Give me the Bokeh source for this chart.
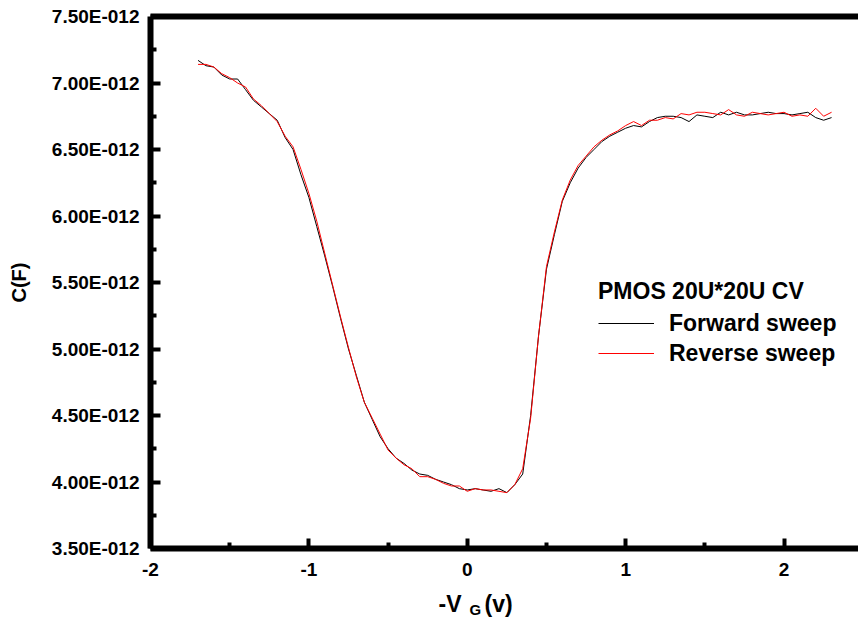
from bokeh.plotting import figure
from bokeh.layouts import column
from bokeh.models import (Range1d, LinearAxis, Legend, LegendItem, Label,
                          FixedTicker, ColumnDataSource)
from bokeh.embed import file_html
from bokeh.resources import INLINE

# Gate voltage sweep (-V_G, volts)
vg = [-1.70, -1.65, -1.60, -1.55, -1.50, -1.45, -1.40, -1.35, -1.30, -1.25,
      -1.20, -1.15, -1.10, -1.05, -1.00, -0.95, -0.90, -0.85, -0.80, -0.75,
      -0.70, -0.65, -0.60, -0.55, -0.50, -0.45, -0.40, -0.35, -0.30, -0.25,
      -0.20, -0.15, -0.10, -0.05, 0.00, 0.05, 0.10, 0.15, 0.20, 0.25,
      0.30, 0.35, 0.40, 0.45, 0.50, 0.55, 0.60, 0.65, 0.70, 0.75,
      0.80, 0.85, 0.90, 0.95, 1.00, 1.05, 1.10, 1.15, 1.20, 1.25,
      1.30, 1.35, 1.40, 1.45, 1.50, 1.55, 1.60, 1.65, 1.70, 1.75,
      1.80, 1.85, 1.90, 1.95, 2.00, 2.05, 2.10, 2.15, 2.20, 2.25, 2.30]

# Capacitance in units of 1E-12 F
c_forward = [7.17, 7.13, 7.12, 7.06, 7.03, 7.03, 6.95, 6.87, 6.82, 6.77,
             6.72, 6.59, 6.50, 6.31, 6.14, 5.92, 5.70, 5.47, 5.23, 5.00,
             4.80, 4.60, 4.47, 4.34, 4.25, 4.18, 4.14, 4.09, 4.06, 4.05,
             4.02, 4.00, 3.98, 3.95, 3.94, 3.95, 3.94, 3.93, 3.95, 3.92,
             3.98, 4.06, 4.50, 5.10, 5.60, 5.86, 6.11, 6.25, 6.36, 6.44,
             6.50, 6.56, 6.60, 6.63, 6.66, 6.68, 6.67, 6.71, 6.74, 6.75,
             6.75, 6.74, 6.71, 6.76, 6.75, 6.74, 6.78, 6.76, 6.78, 6.76,
             6.76, 6.77, 6.78, 6.77, 6.77, 6.76, 6.77, 6.78, 6.74, 6.72, 6.74]
c_reverse = [7.14, 7.14, 7.12, 7.07, 7.04, 7.00, 6.97, 6.88, 6.83, 6.77,
             6.71, 6.60, 6.52, 6.35, 6.17, 5.96, 5.72, 5.48, 5.24, 5.01,
             4.79, 4.60, 4.48, 4.36, 4.24, 4.18, 4.13, 4.10, 4.04, 4.04,
             4.02, 3.99, 3.97, 3.97, 3.93, 3.95, 3.94, 3.94, 3.93, 3.92,
             3.98, 4.10, 4.48, 5.10, 5.62, 5.88, 6.12, 6.27, 6.38, 6.45,
             6.52, 6.57, 6.61, 6.64, 6.68, 6.71, 6.68, 6.72, 6.72, 6.74,
             6.73, 6.77, 6.76, 6.78, 6.78, 6.77, 6.76, 6.80, 6.76, 6.75,
             6.78, 6.77, 6.76, 6.77, 6.78, 6.75, 6.76, 6.75, 6.81, 6.75, 6.78]

y_ticks = [3.5, 4.0, 4.5, 5.0, 5.5, 6.0, 6.5, 7.0, 7.5]
y_tick_labels = ["3.50E-012", "4.00E-012", "4.50E-012", "5.00E-012", "5.50E-012",
                 "6.00E-012", "6.50E-012", "7.00E-012", "7.50E-012"]
x_ticks = [-2, -1, 0, 1, 2]
x_tick_labels = ["-2", "-1", "0", "1", "2"]

legend_title = "PMOS 20U*20U CV"
series_names = ["Forward sweep", "Reverse sweep"]
y_title = "C(F)"
x_title_parts = ["-V", "G", "(v)"]

FONT = "Liberation Sans"

p = figure(width=858, height=592, output_backend="svg", toolbar_location=None,
           x_range=Range1d(-2, 2.47), y_range=Range1d(3.5, 7.5),
           min_border_left=150, min_border_right=0, min_border_top=16,
           min_border_bottom=44, x_axis_location=None, y_axis_location=None)
p.outline_line_color = None
p.grid.visible = False
p.background_fill_color = "white"
p.border_fill_color = "white"

src = ColumnDataSource(dict(x=vg, f=c_forward, r=c_reverse))
r1 = p.line("x", "f", source=src, line_color="black", line_width=1)
r2 = p.line("x", "r", source=src, line_color="#ff0000", line_width=1)

xa = LinearAxis(ticker=FixedTicker(ticks=x_ticks, minor_ticks=[-1.5, -0.5, 0.5, 1.5, 2.5]))
xa.major_label_overrides = {t: s for t, s in zip(x_ticks, x_tick_labels)}
ya = LinearAxis(ticker=FixedTicker(ticks=y_ticks,
                                   minor_ticks=[3.75, 4.25, 4.75, 5.25, 5.75, 6.25, 6.75, 7.25]))
ya.major_label_overrides = {t: s for t, s in zip(y_ticks, y_tick_labels)}
for ax in (xa, ya):
    ax.axis_line_width = 6
    ax.axis_line_color = "black"
    ax.major_tick_in = 10
    ax.major_tick_out = 0
    ax.minor_tick_in = 6
    ax.minor_tick_out = 0
    ax.major_tick_line_width = 4
    ax.minor_tick_line_width = 4
    ax.major_tick_line_color = "black"
    ax.minor_tick_line_color = "black"
    ax.major_label_text_font = FONT
    ax.major_label_text_font_style = "bold"
    ax.major_label_text_font_size = "19px"
    ax.major_label_text_color = "black"
xa.major_label_standoff = 14
ya.major_label_standoff = 11
ya.axis_label = y_title
ya.axis_label_text_font = FONT
ya.axis_label_text_font_style = "bold"
ya.axis_label_text_font_size = "20px"
ya.axis_label_text_color = "black"
ya.axis_label_standoff = 19
p.add_layout(xa, "below")
p.add_layout(ya, "left")

# top frame line (no ticks, no labels)
ta = LinearAxis(ticker=FixedTicker(ticks=[], minor_ticks=[]))
ta.axis_line_width = 6
ta.axis_line_color = "black"
ta.major_tick_in = 0
ta.major_tick_out = 0
ta.minor_tick_in = 0
ta.minor_tick_out = 0
ta.major_label_standoff = 0
p.add_layout(ta, "above")

legend = Legend(items=[LegendItem(label=series_names[0], renderers=[r1]),
                       LegendItem(label=series_names[1], renderers=[r2])],
                title=legend_title, location=(448, 181),
                border_line_color=None, background_fill_alpha=0,
                title_text_font=FONT, title_text_font_style="bold",
                title_text_font_size="23px", title_text_color="black",
                label_text_font=FONT, label_text_font_style="bold",
                label_text_font_size="23px", label_text_color="black",
                glyph_width=56, glyph_height=28, label_standoff=15,
                padding=0, margin=0, spacing=2, title_standoff=4)
p.add_layout(legend)

# strip below the plot carrying the x-axis title (with subscript);
# its frame is aligned with the main frame (pixels 150..858)
q = figure(width=858, height=40, output_backend="svg", toolbar_location=None,
           x_range=Range1d(150, 858), y_range=Range1d(0, 40),
           min_border=0, x_axis_location=None, y_axis_location=None)
q.outline_line_color = None
q.grid.visible = False
q.background_fill_color = "white"
q.border_fill_color = "white"
lab_style = dict(text_font=FONT, text_font_style="bold", text_color="black",
                 text_baseline="alphabetic", text_align="left")
q.add_layout(Label(x=438, y=29, text=x_title_parts[0], text_font_size="23px", **lab_style))
q.add_layout(Label(x=469, y=23, text=x_title_parts[1], text_font_size="15px", **lab_style))
q.add_layout(Label(x=484, y=29, text=x_title_parts[2], text_font_size="23px", **lab_style))

layout = column(p, q, spacing=0)
open("out.html", "w").write(file_html(layout, INLINE))
